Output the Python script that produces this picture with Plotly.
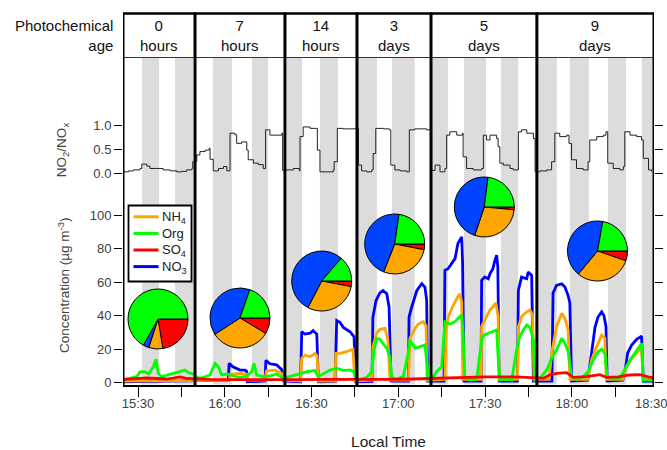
import plotly.graph_objects as go

# ---------------- data (time = minutes after 15:30 local time) ----------------
tick_minutes = [0, 30, 60, 90, 120, 150, 180]
tick_labels = ["15:30", "16:00", "16:30", "17:00", "17:30", "18:00", "18:30"]
minor_tick_minutes = [15, 45, 75, 105, 135, 165]

seg_bounds = [-5.2, 19.7, 50.8, 75.7, 101.3, 137.9, 178.4]
seg_age_num = ["0", "7", "14", "3", "5", "9"]
seg_age_unit = ["hours", "hours", "hours", "days", "days", "days"]

band_start = [1.4, 12.8, 25.9, 39.4, 51.5, 62.9, 76.0, 87.8, 101.6, 112.7, 125.5, 137.9, 149.3, 162.5, 174.2]
band_end = [7.3, 19.0, 32.5, 44.9, 56.7, 69.1, 82.6, 95.7, 107.2, 120.3, 131.4, 144.8, 155.9, 168.7, 178.4]

# NO3 (ug m-3)
no3_t = [-5.2, 5.0, 19.0,
         19.7, 24.0, 31.2, 31.5, 32.8, 35.3, 37.0, 37.5, 37.8, 43.9, 44.2, 45.6, 47.9, 49.7, 50.2,
         56.2, 56.6, 57.7, 59.5, 60.5, 61.8, 62.4, 68.1, 68.7, 69.8, 71.0, 73.3, 74.7, 75.2,
         80.9, 81.2, 82.3, 83.6, 84.7, 86.0, 86.8, 87.5, 93.5, 93.7, 94.6, 96.4, 98.1, 99.2, 99.8, 100.1,
         105.8, 106.1, 107.2, 108.4, 109.6, 110.6, 111.9, 112.2, 112.7, 118.6, 118.8, 119.9, 121.1, 121.7,
         122.7, 123.4, 124.0, 124.4, 124.9, 131.2, 131.5, 132.6, 134.4, 134.9, 136.1, 136.7,
         143.1, 143.5, 144.7, 146.5, 147.6, 148.7, 149.3, 149.9, 155.5, 156.2, 158.0, 159.0, 160.3, 161.1,
         161.8, 162.2, 167.6, 168.3, 169.3, 170.7, 172.4, 174.1, 174.7, 178.4]
no3_v = [0.5, 0.8, 1.0,
         1.2, 1.5, 1.5, 11.5, 9.5, 7.5, 7.5, 7.0, 0.5, 1.0, 13.3, 11.3, 10.7, 7.7, 1.0,
         0.5, 30.4, 29.0, 29.5, 31.0, 29.0, 0.5, 0.8, 37.0, 36.0, 33.0, 30.4, 27.4, 0.5,
         0.8, 39.0, 49.0, 53.5, 55.0, 53.0, 45.0, 1.0, 1.0, 39.0, 45.0, 55.0, 59.0, 57.0, 49.0, 1.0,
         1.0, 67.0, 68.0, 71.0, 74.0, 83.0, 87.0, 73.0, 1.0, 1.0, 61.0, 63.0, 62.0, 65.0,
         68.0, 73.0, 76.0, 69.0, 1.0, 1.0, 55.0, 63.0, 62.0, 66.0, 64.0, 1.0,
         1.0, 53.5, 58.0, 59.0, 57.0, 52.0, 47.5, 1.0, 1.5, 10.0, 33.0, 39.0, 42.3, 40.0,
         33.4, 1.0, 1.5, 5.8, 17.7, 22.5, 25.9, 27.8, 1.0, 1.0]

# NH4
nh4_t = [-5.2, 10.0, 19.0,
         19.7, 31.5, 31.8, 35.3, 37.7, 38.0, 43.9, 44.4, 47.3, 49.7, 50.2,
         56.2, 56.6, 57.7, 59.5, 61.2, 61.9, 62.4, 68.1, 68.4, 69.8, 72.1, 74.3, 75.0,
         80.9, 81.2, 82.5, 83.6, 85.4, 86.4, 87.1, 93.5, 94.0, 95.8, 96.9, 98.6, 99.6, 99.9,
         106.1, 106.5, 107.3, 109.0, 110.7, 111.3, 111.9, 112.3, 118.6, 118.8, 120.5, 121.7,
         122.8, 123.7, 124.5, 124.9, 131.2, 131.5, 132.6, 134.4, 135.5, 136.4, 136.9,
         142.1, 143.0, 144.7, 146.5, 147.6, 148.7, 149.3, 155.5, 156.8, 158.6, 160.3, 161.4,
         161.9, 167.6, 168.9, 170.7, 172.4, 174.1, 174.6, 178.4]
nh4_v = [1.0, 1.2, 1.3,
         1.5, 1.5, 5.0, 5.5, 5.0, 1.5, 1.5, 7.0, 7.5, 5.5, 1.5,
         1.0, 14.5, 16.5, 15.5, 17.5, 16.0, 1.0, 1.0, 17.5, 17.5, 18.5, 20.0, 1.0,
         1.5, 21.5, 29.5, 31.8, 32.4, 25.5, 1.5, 1.5, 26.5, 32.4, 35.0, 36.4, 34.0, 1.5,
         2.0, 30.0, 39.4, 46.3, 51.7, 53.0, 48.0, 2.0, 2.0, 33.4, 39.4, 43.4,
         45.3, 47.7, 39.4, 2.0, 2.0, 33.4, 39.4, 42.3, 43.4, 40.4, 2.0,
         2.0, 17.5, 33.4, 41.4, 38.4, 31.4, 2.0, 2.0, 13.5, 21.5, 28.4, 26.5,
         2.0, 2.0, 9.5, 14.5, 17.5, 21.5, 2.0, 2.0]

# Organics
org_t = [-5.2, -2.8, -0.45, 0.7, 2.4, 3.6, 5.3, 6.2, 7.0, 8.2, 9.9, 12.2, 14.5, 16.2, 17.4, 19.1,
         20.8, 22.6, 24.9, 26.6, 27.8, 28.9, 30.7, 32.9, 35.3, 37.6, 39.3, 40.1, 41.0, 43.3, 45.6, 47.9, 50.2,
         52.5, 54.9, 56.6, 58.3, 61.2, 62.3, 64.6, 66.4, 68.7, 71.0, 73.3, 74.7, 75.4,
         76.8, 79.1, 80.8, 81.6, 82.5, 83.6, 84.8, 86.0, 87.1, 87.7, 89.4, 91.7, 93.4, 94.0, 95.8,
         97.5, 99.2, 100.0, 100.2,
         102.1, 103.2, 105.0, 106.1, 107.8, 109.6, 110.7, 111.9, 112.4, 113.0, 114.8, 117.1, 118.8,
         119.6, 121.1, 122.8, 124.0, 124.5, 125.1, 127.4, 129.2, 130.9, 132.0, 133.2, 134.4, 135.5,
         136.7, 137.2,
         139.0, 141.3, 143.0, 144.7, 146.5, 147.6, 148.7, 149.9, 151.6, 153.9, 155.6, 157.4, 159.1,
         160.3, 161.4, 162.2, 164.3, 166.6, 168.3, 170.1, 171.8, 173.5, 174.1, 174.7, 177.0, 178.4]
org_v = [1.6, 2.4, 3.6, 6.6, 6.6, 5.2, 9.5, 14.0, 5.6, 3.6, 4.6, 5.6, 6.6, 7.6, 6.0, 5.2,
         2.7, 3.2, 4.6, 11.5, 9.5, 4.6, 5.2, 4.0, 3.2, 4.0, 6.6, 11.5, 4.6, 3.6, 4.0, 5.2, 2.7,
         3.6, 4.6, 5.6, 6.6, 7.2, 3.6, 5.6, 7.6, 8.6, 7.2, 7.6, 6.6, 1.6,
         2.0, 3.2, 6.6, 19.5, 26.5, 26.0, 23.5, 20.5, 15.5, 3.2, 2.0, 3.6, 17.5, 25.5, 20.5,
         21.5, 22.5, 10.0, 2.0,
         3.6, 6.6, 9.5, 36.4, 35.0, 36.4, 38.4, 40.4, 29.5, 2.7, 1.5, 2.0, 25.5,
         28.4, 29.5, 30.4, 31.4, 15.0, 1.6, 2.0, 1.6, 19.5, 27.4, 31.4, 34.4, 33.0,
         25.5, 1.6,
         2.7, 7.6, 14.5, 19.5, 26.5, 23.5, 18.5, 3.6, 2.0, 3.6, 6.6, 13.5, 18.5,
         20.0, 17.5, 3.6, 2.0, 2.7, 7.6, 13.5, 17.5, 21.5, 23.5, 1.6, 1.6, 1.6]

# SO4
so4_t = [-5.2, 3.0, 10.0, 14.5, 17.0, 20.0, 25.0, 35.0, 45.0, 55.0, 65.0, 75.0, 85.0, 95.0, 101.0, 110.0,
         120.0, 130.0, 137.0, 140.1, 142.4, 144.7, 148.2, 150.5, 155.0, 157.4, 159.7, 162.0, 166.0, 170.0,
         173.5, 177.0, 178.4]
so4_v = [2.0, 2.8, 2.2, 3.5, 2.5, 2.2, 2.0, 1.8, 1.7, 1.8, 2.0, 1.8, 2.0, 2.2, 2.5, 3.2,
         3.5, 3.5, 3.2, 2.7, 4.6, 5.6, 6.0, 3.2, 3.6, 4.0, 4.8, 3.2, 3.5, 4.6,
         4.8, 3.2, 3.2]

# NO2/NOx ratio
ratio_t = [-5.2, -3.3, -1.6, 0.7, 1.3, 3.0, 4.1, 6.5, 8.7, 11.1, 13.4, 15.1, 16.8, 18.6, 18.9,
           20.3, 21.4, 23.2, 24.6, 24.9, 26.0, 27.8, 29.5, 30.7, 31.8, 33.5, 34.1, 35.8, 37.6, 38.1,
           39.9, 41.6, 43.3, 44.1, 45.6, 47.9, 49.7, 50.0,
           51.4, 53.7, 55.8, 56.0, 57.1, 59.5, 61.5, 62.0, 62.9, 65.2, 67.5, 67.8, 68.9, 71.0, 75.0,
           76.2, 77.3, 79.1, 80.8, 81.3, 82.2, 84.8, 86.9, 87.4, 88.8, 90.6, 92.9, 93.8, 95.7, 99.8,
           101.5, 102.7, 104.4, 106.1, 106.7, 107.8, 110.2, 112.2, 112.4, 113.6, 115.9, 118.8, 119.4,
           120.5, 121.7, 124.0, 124.5, 125.1, 126.3, 128.6, 129.7, 131.5, 132.6, 134.4, 136.7, 137.3,
           139.0, 141.3, 143.0, 144.1, 145.8, 148.2, 149.0, 149.9, 151.6, 153.9, 155.6, 156.2, 158.6,
           160.9, 161.8, 162.4, 164.3, 166.6, 167.8, 168.3, 170.1, 172.4, 174.1, 174.7, 176.5, 177.6]
ratio_v = [0.03, 0.05, 0.07, 0.10, 0.19, 0.15, 0.10, 0.10, 0.07, 0.05, 0.03, 0.04, 0.07, 0.10, 0.24,
           0.38, 0.45, 0.48, 0.52, 0.29, 0.05, 0.10, 0.14, 0.05, 0.83, 0.80, 0.62, 0.65, 0.48, 0.28,
           0.21, 0.18, 0.10, 0.90, 0.79, 0.79, 0.83, 0.06,
           0.07, 0.10, 0.05, 0.76, 0.96, 0.93, 0.93, 0.48, 0.03, 0.03, 0.07, 0.24, 0.93, 0.92, 0.93,
           0.17, 0.05, 0.03, 0.07, 0.41, 0.93, 0.92, 0.90, 0.17, 0.07, 0.05, 0.03, 0.90, 0.92, 0.90,
           0.06, 0.17, 0.03, 0.10, 0.79, 0.86, 0.79, 0.83, 0.34, 0.10, 0.07, 0.10, 0.79,
           0.69, 0.79, 0.72, 0.55, 0.21, 0.17, 0.10, 0.07, 0.86, 0.90, 0.83, 0.72, 0.03,
           0.05, 0.07, 0.24, 0.83, 0.76, 0.79, 0.62, 0.28, 0.10, 0.07, 0.24, 0.69, 0.76,
           0.79, 0.86, 0.21, 0.10, 0.07, 0.14, 0.86, 0.79, 0.76, 0.69, 0.31, 0.07, 0.03]

# pie fractions (%) per photochemical-age segment
pie_so4 = [22.4, 8.6, 3.0, 3.1, 1.5, 5.3]
pie_nh4 = [7.6, 32.2, 29.6, 27.9, 28.7, 30.8]
pie_no3 = [3.1, 39.4, 53.7, 46.3, 46.8, 41.8]
pie_org = [66.9, 19.7, 13.7, 22.7, 23.0, 22.2]

legend_names = ["NH<sub>4</sub>", "Org", "SO<sub>4</sub>", "NO<sub>3</sub>"]

# ---------------- layout helpers (pixel geometry of the 667x450 window) ----------------
FIG_W, FIG_H = 667, 450
FONT = "Liberation Sans, Arial, sans-serif"


def fx(p):
    return p / FIG_W


def fy(p):
    return 1 - p / FIG_H


pie_centers = [(158, 319), (240, 318), (321.7, 281), (394.7, 244), (484.3, 207), (597.5, 251)]
PIE_R = 30

C_NH4, C_ORG, C_SO4, C_NO3 = "#ffa500", "#00ff00", "#ff0000", "#0000ff"
legend_colors = [C_NH4, C_ORG, C_SO4, C_NO3]
PIE_COLORS = ["#ff0000", "#ffa500", "#0044ff", "#00ff00"]

fig = go.Figure()

series = [
    ("NO3", no3_t, no3_v, C_NO3),
    ("NH4", nh4_t, nh4_v, C_NH4),
    ("Org", org_t, org_v, C_ORG),
    ("SO4", so4_t, so4_v, C_SO4),
]
for name, t, v, col in series:
    fig.add_trace(go.Scatter(x=t, y=v, mode="lines", name=name, showlegend=False,
                             line=dict(color=col, width=2.8), xaxis="x", yaxis="y",
                             hoverinfo="skip"))

fig.add_trace(go.Scatter(x=ratio_t, y=ratio_v, mode="lines", name="NO2/NOx",
                         line=dict(color="#222", width=1, shape="hv"),
                         xaxis="x", yaxis="y2", showlegend=False, hoverinfo="skip"))

for i, (cx, cy) in enumerate(pie_centers):
    fig.add_trace(go.Pie(
        values=[pie_so4[i], pie_nh4[i], pie_no3[i], pie_org[i]],
        labels=["SO4", "NH4", "NO3", "Org"],
        marker=dict(colors=PIE_COLORS, line=dict(color="black", width=1)),
        sort=False, direction="clockwise", rotation=90,
        textinfo="none", hoverinfo="skip", showlegend=False,
        domain=dict(x=[fx(cx - PIE_R), fx(cx + PIE_R)], y=[fy(cy + PIE_R), fy(cy - PIE_R)]),
    ))

shapes = []
for s, e in zip(band_start, band_end):
    shapes.append(dict(type="rect", xref="x", yref="paper", x0=s, x1=e, y0=fy(384.5), y1=fy(58),
                       fillcolor="#dcdcdc", line=dict(width=0), layer="below"))
# header box lines
shapes.append(dict(type="line", xref="x", yref="paper", x0=seg_bounds[0], x1=seg_bounds[-1],
                   y0=fy(13.5), y1=fy(13.5), line=dict(color="black", width=2.5), layer="above"))
shapes.append(dict(type="line", xref="x", yref="paper", x0=seg_bounds[0], x1=seg_bounds[-1],
                   y0=fy(57.5), y1=fy(57.5), line=dict(color="#333", width=1), layer="above"))
for b in seg_bounds:
    shapes.append(dict(type="line", xref="x", yref="paper", x0=b, x1=b, y0=fy(385.5), y1=fy(12.5),
                       line=dict(color="black", width=3), layer="above"))

# legend box (drawn by hand to match the compact original legend)
LEG_X0, LEG_X1, LEG_Y0, LEG_Y1 = 128.5, 191.5, 205.5, 281.5
LEG_ROW0, LEG_STEP = 216.8, 16.6
shapes.append(dict(type="rect", xref="paper", yref="paper", x0=fx(LEG_X0), x1=fx(LEG_X1),
                   y0=fy(LEG_Y1), y1=fy(LEG_Y0), fillcolor="white",
                   line=dict(color="black", width=1.8), layer="above"))

annotations = []
for i, (nm, col) in enumerate(zip(legend_names, legend_colors)):
    ry = LEG_ROW0 + i * LEG_STEP
    shapes.append(dict(type="line", xref="paper", yref="paper", x0=fx(133.5), x1=fx(158.5),
                       y0=fy(ry), y1=fy(ry), line=dict(color=col, width=3), layer="above"))
    annotations.append(dict(xref="paper", yref="paper", x=fx(160), y=fy(ry + 0.5), xanchor="left",
                            yanchor="middle", text=nm, showarrow=False,
                            font=dict(size=13, color="#222", family=FONT)))

for i in range(len(seg_age_num)):
    annotations.append(dict(xref="x", yref="paper", x=(seg_bounds[i] + seg_bounds[i + 1]) / 2, y=fy(35.5),
                            xanchor="center", yanchor="middle",
                            text=f"{seg_age_num[i]}<br>{seg_age_unit[i]}", showarrow=False,
                            font=dict(size=15, color="#111", family=FONT), align="center"))
annotations.append(dict(xref="paper", yref="paper", x=fx(115), y=fy(35.5), xanchor="right",
                        yanchor="middle", text="Photochemical<br>age", align="right", showarrow=False,
                        font=dict(size=15, color="#111", family=FONT)))
annotations.append(dict(xref="paper", yref="paper", x=fx(651), y=fy(403), xanchor="center",
                        yanchor="middle", text=tick_labels[-1],
                        showarrow=False, font=dict(size=13, color="#404040", family=FONT)))

tickfont = dict(size=13, color="#404040", family=FONT)

fig.update_layout(
    width=FIG_W, height=FIG_H, autosize=False,
    margin=dict(l=0, r=0, t=0, b=0),
    paper_bgcolor="white", plot_bgcolor="white",
    font=dict(family=FONT),
    hovermode=False,
    shapes=shapes, annotations=annotations,
    showlegend=False,
    xaxis=dict(domain=[fx(123), fx(654)], range=[seg_bounds[0], seg_bounds[-1]], anchor="y",
               tickmode="array", tickvals=tick_minutes, ticktext=tick_labels,
               ticks="outside", ticklen=10, tickwidth=1.3, tickcolor="black",
               minor=dict(tickmode="array", tickvals=minor_tick_minutes, ticks="outside", ticklen=10,
                          tickwidth=1.3, tickcolor="black"),
               ticklabelstandoff=-4,
               showline=True, linecolor="black", linewidth=2, showgrid=False, zeroline=False,
               tickfont=tickfont, automargin=False,
               title=dict(text="Local Time", font=dict(size=15.5, color="#222", family=FONT), standoff=29)),
    yaxis=dict(domain=[fy(384.5), fy(186)], range=[-1.07, 117.3], anchor="x",
               tickmode="array", tickvals=[0, 20, 40, 60, 80, 100],
               ticks="outside", ticklen=8, tickwidth=1.3, tickcolor="black", mirror="ticks",
               showline=False, showgrid=False, zeroline=False, tickfont=tickfont, automargin=False,
               title=dict(text="Concentration (µg m<sup>-3</sup>)",
                          font=dict(size=13.5, color="#404040", family=FONT), standoff=16)),
    yaxis2=dict(domain=[fy(186), fy(114)], range=[-0.263, 1.228], anchor="x",
                tickmode="array", tickvals=[0, 0.5, 1.0], tickformat=".1f",
                ticks="outside", ticklen=8, tickwidth=1, tickcolor="black", mirror="ticks",
                showline=False, showgrid=False, zeroline=False, tickfont=tickfont, automargin=False,
                title=dict(text="NO<sub>2</sub>/NO<sub>x</sub>",
                           font=dict(size=13.5, color="#404040", family=FONT), standoff=23)),
)

# remove the browser's default 8px page margin so the 667x450 figure fills the window exactly
page_fix = ("document.body.style.margin='0';"
            "document.body.style.overflow='hidden';"
            "document.documentElement.style.overflow='hidden';")
fig.write_html("out.html", post_script=page_fix, config={"displayModeBar": False})
